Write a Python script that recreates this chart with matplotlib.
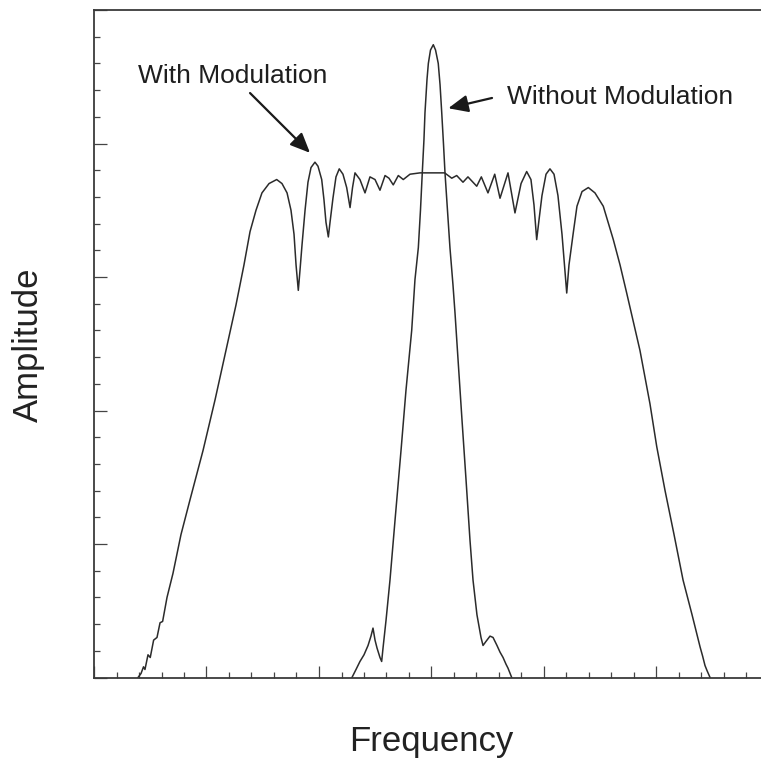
import numpy as np
import matplotlib
matplotlib.use('Agg')
import matplotlib.pyplot as plt
from matplotlib.ticker import MultipleLocator

plt.rcParams['font.family'] = ['Liberation Sans', 'DejaVu Sans']

# spectrum with modulation (broad, rippled top)
mod_freq = [0.391, 0.418, 0.440, 0.453, 0.480, 0.500, 0.530, 0.560, 0.587, 0.610,
            0.649, 0.702, 0.773, 0.853, 0.969, 1.076, 1.173, 1.262, 1.333, 1.387,
            1.440, 1.493, 1.556, 1.624, 1.671, 1.716, 1.751, 1.778, 1.796, 1.816,
            1.831, 1.849, 1.876, 1.902, 1.929, 1.964, 1.991, 2.024, 2.044, 2.062,
            2.083, 2.098, 2.124, 2.151, 2.180, 2.213, 2.246, 2.276, 2.298, 2.320,
            2.364, 2.409, 2.453, 2.498, 2.542, 2.587, 2.622, 2.660, 2.705, 2.749,
            2.809, 2.898, 2.996, 3.117, 3.180, 3.224, 3.280, 3.324, 3.402, 3.443,
            3.502, 3.562, 3.609, 3.680, 3.742, 3.796, 3.846, 3.884, 3.911, 3.935,
            3.956, 3.982, 4.018, 4.053, 4.089, 4.124, 4.160, 4.182, 4.202, 4.222,
            4.260, 4.293, 4.338, 4.394, 4.453, 4.527, 4.616, 4.676, 4.735, 4.853,
            4.942, 5.002, 5.076, 5.156, 5.236, 5.316, 5.387, 5.410, 5.431, 5.450,
            5.476]
mod_amp = [0.00, 0.03, 0.08, 0.06, 0.17, 0.15, 0.28, 0.30, 0.41, 0.42,
           0.60, 0.78, 1.07, 1.33, 1.70, 2.08, 2.45, 2.79, 3.09, 3.34,
           3.50, 3.63, 3.70, 3.73, 3.70, 3.63, 3.50, 3.32, 3.09, 2.90,
           3.05, 3.24, 3.50, 3.71, 3.82, 3.86, 3.83, 3.73, 3.58, 3.41,
           3.30, 3.41, 3.59, 3.75, 3.81, 3.77, 3.67, 3.52, 3.67, 3.78,
           3.73, 3.63, 3.75, 3.73, 3.65, 3.76, 3.74, 3.69, 3.76, 3.73,
           3.77, 3.78, 3.78, 3.78, 3.74, 3.76, 3.71, 3.75, 3.68, 3.75,
           3.63, 3.77, 3.59, 3.78, 3.48, 3.70, 3.79, 3.73, 3.54, 3.28,
           3.43, 3.61, 3.77, 3.81, 3.77, 3.61, 3.32, 3.09, 2.88, 3.09,
           3.33, 3.53, 3.64, 3.67, 3.63, 3.53, 3.28, 3.09, 2.88, 2.45,
           2.05, 1.73, 1.40, 1.07, 0.73, 0.47, 0.23, 0.16, 0.09, 0.05,
           0.00]

# spectrum without modulation (narrow central line)
bare_freq = [2.293, 2.329, 2.364, 2.400, 2.436, 2.462, 2.480, 2.498, 2.516, 2.542,
             2.557, 2.569, 2.596, 2.631, 2.676, 2.729, 2.773, 2.824, 2.853, 2.883,
             2.902, 2.918, 2.933, 2.942, 2.960, 2.972, 2.991, 3.016, 3.036, 3.060,
             3.076, 3.091, 3.107, 3.120, 3.142, 3.164, 3.191, 3.209, 3.236, 3.271,
             3.307, 3.342, 3.369, 3.404, 3.440, 3.458, 3.484, 3.520, 3.547, 3.582,
             3.609, 3.636, 3.662, 3.680, 3.713]
bare_amp = [0.00, 0.06, 0.12, 0.17, 0.24, 0.31, 0.37, 0.28, 0.22, 0.15,
            0.12, 0.22, 0.43, 0.73, 1.18, 1.70, 2.15, 2.60, 2.98, 3.22,
            3.50, 3.78, 4.03, 4.23, 4.48, 4.60, 4.70, 4.74, 4.70, 4.60,
            4.44, 4.23, 3.99, 3.78, 3.50, 3.22, 2.94, 2.73, 2.38, 1.93,
            1.48, 1.03, 0.73, 0.47, 0.30, 0.24, 0.27, 0.31, 0.30, 0.24,
            0.19, 0.15, 0.10, 0.07, 0.00]

line_col = '#2b2b2b'

fig = plt.figure(figsize=(7.61, 7.61), dpi=100)
# the right part of the frame is cut off in the original scan
ax = fig.add_axes([94 / 761, 1 - 677.5 / 761, 675 / 761, 667.5 / 761])

ax.plot(mod_freq, mod_amp, color=line_col, lw=1.1)
ax.plot(bare_freq, bare_amp, color=line_col, lw=1.1)

ax.set_xlim(0, 6)
ax.set_ylim(0, 5)
ax.xaxis.set_major_locator(MultipleLocator(1))
ax.xaxis.set_minor_locator(MultipleLocator(0.2))
ax.yaxis.set_major_locator(MultipleLocator(1))
ax.yaxis.set_minor_locator(MultipleLocator(0.2))
ax.tick_params(which='both', direction='in', labelbottom=False, labelleft=False,
               top=False, right=False, color='#444444', width=0.9)
ax.tick_params(which='major', length=9)
ax.tick_params(which='minor', length=4.5)
for s in ax.spines.values():
    s.set_color('#3a3a3a')
    s.set_linewidth(1.3)

ax.set_xlabel('Frequency', fontsize=25, color='#222222')
ax.xaxis.label.set_va('center')
ax.xaxis.set_label_coords(0.499, -0.0966)
ax.set_ylabel('Amplitude', fontsize=25, color='#222222')
ax.yaxis.label.set_va('center')
ax.yaxis.set_label_coords(-0.0978, 0.498)

arrow = dict(arrowstyle='-|>,head_length=0.8,head_width=0.35', color='#1a1a1a',
             lw=1.6, shrinkA=0, shrinkB=0, mutation_scale=15)
ax.annotate('', xy=(1.92, 3.93), xytext=(1.387, 4.378), arrowprops=arrow)
ax.annotate('', xy=(3.149, 4.264), xytext=(3.538, 4.341), arrowprops=arrow)
ax.text(0.391, 4.506, 'With Modulation', fontsize=19, ha='left', va='center', color='#1e1e1e')
ax.text(3.668, 4.349, 'Without Modulation', fontsize=19, ha='left', va='center', color='#1e1e1e')

fig.savefig('out.png', dpi=100)
